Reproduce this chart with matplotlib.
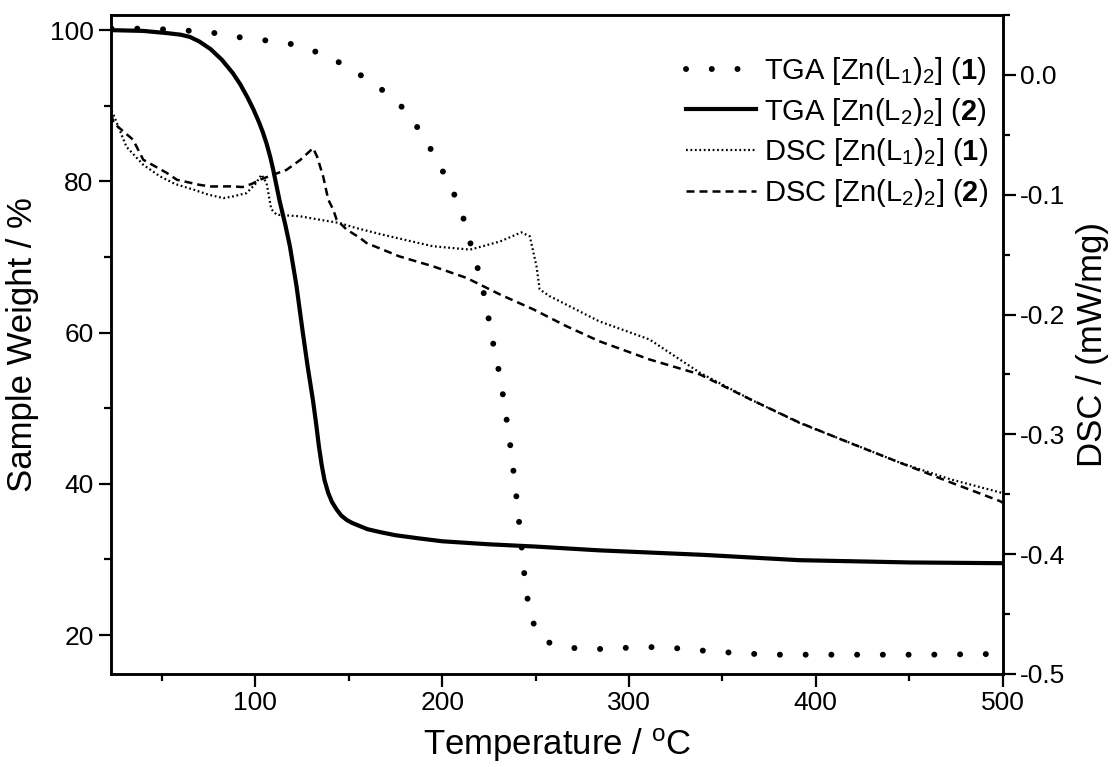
import matplotlib
matplotlib.use("Agg")
import matplotlib.pyplot as plt
from matplotlib.ticker import MultipleLocator, FuncFormatter

plt.rcParams['font.family'] = ['Liberation Sans', 'DejaVu Sans']
plt.rcParams['mathtext.fontset'] = 'custom'
plt.rcParams['mathtext.rm'] = 'Liberation Sans'
plt.rcParams['mathtext.it'] = 'Liberation Sans:italic'
plt.rcParams['mathtext.bf'] = 'Liberation Sans:bold'
plt.rcParams['axes.unicode_minus'] = False

# ---- data ----
tga1_T = [23, 38, 52, 66, 79, 93, 107, 121, 134, 146, 158, 169, 180, 190, 200, 208,
          212.5, 216, 220, 223, 225.5, 228, 231, 233, 236, 239, 242, 244, 246.3, 249,
          251, 255, 263, 277, 291, 305, 319, 332, 346, 360, 374, 388, 420, 460, 500]
tga1_W = [100.2, 100.2, 100.1, 99.9, 99.6, 99.0, 98.6, 98.1, 97.0, 95.6, 93.8, 91.9,
          89.5, 86.0, 81.5, 77.5, 74.3, 71.0, 67.7, 64.4, 61.0, 57.6, 54.2, 51.0, 46.0,
          40.0, 33.0, 28.0, 23.7, 21.5, 20.4, 19.2, 18.5, 18.1, 18.2, 18.4, 18.4, 18.1,
          17.8, 17.6, 17.4, 17.4, 17.4, 17.4, 17.5]

tga2_T = [23, 40, 53, 60, 65, 70, 76, 82, 88, 92, 96, 99, 102, 104, 106, 108, 109.5,
          111, 113, 116, 118.5, 122, 125.4, 128, 130.8, 132.5, 134, 135.5, 137, 139, 141,
          143.5, 146, 149, 152, 156, 160, 167, 175, 187, 200, 225, 250, 284, 340, 391,
          450, 500]
tga2_W = [100.0, 99.9, 99.6, 99.4, 99.1, 98.5, 97.5, 96.1, 94.3, 92.8, 91.0, 89.5, 87.8,
          86.5, 85.0, 83.2, 81.6, 79.8, 77.4, 74.3, 71.4, 66.2, 60.0, 55.5, 51.1, 48.0,
          45.0, 42.5, 40.5, 38.8, 37.6, 36.6, 35.8, 35.2, 34.8, 34.4, 34.0, 33.6, 33.2,
          32.8, 32.4, 32.0, 31.7, 31.2, 30.6, 29.9, 29.6, 29.5]

dsc1_T = [23, 24, 31, 40, 49, 57, 67, 75, 83, 88, 95.3, 100, 103.3, 106, 108.5, 111.4,
          124, 135, 145, 154, 168, 195, 215, 231, 242.4, 246.9, 250.5, 252.2, 257.6, 284,
          311, 338, 365, 391, 418, 445, 472, 500]
dsc1_D = [-0.030, -0.033, -0.060, -0.075, -0.0847, -0.091, -0.0958, -0.100, -0.1028,
          -0.1014, -0.0986, -0.091, -0.0833, -0.0903, -0.112, -0.1167, -0.118, -0.121,
          -0.1236, -0.1278, -0.1333, -0.143, -0.1458, -0.139, -0.1314, -0.1347, -0.1597,
          -0.179, -0.1847, -0.2056, -0.2208, -0.2486, -0.2708, -0.2903, -0.3069, -0.3236,
          -0.3375, -0.349]

dsc2_T = [23, 24, 34.5, 40, 52.5, 58, 70, 76, 88, 93, 98, 102.4, 110, 116.7, 124, 130.9,
          133, 136.3, 139, 141.7, 143.5, 148.8, 156, 159.5, 177, 195, 213, 231, 249,
          266.5, 284, 311, 338, 365, 391, 418, 445, 472, 498.4, 500]
dsc2_D = [-0.033, -0.040, -0.054, -0.0708, -0.0817, -0.0875, -0.0917, -0.0931, -0.093,
          -0.0936, -0.091, -0.0875, -0.083, -0.0792, -0.071, -0.0611, -0.068, -0.0847,
          -0.104, -0.1125, -0.1208, -0.129, -0.136, -0.1403, -0.1514, -0.1597, -0.1694,
          -0.1833, -0.1958, -0.2097, -0.2222, -0.2375, -0.250, -0.2708, -0.290, -0.307,
          -0.3236, -0.340, -0.3556, -0.357]

labels = [r'TGA [Zn(L$_1$)$_2$] ($\mathbf{1}$)',
          r'TGA [Zn(L$_2$)$_2$] ($\mathbf{2}$)',
          r'DSC [Zn(L$_1$)$_2$] ($\mathbf{1}$)',
          r'DSC [Zn(L$_2$)$_2$] ($\mathbf{2}$)']

# ---- figure ----
fig = plt.figure(figsize=(11.14, 7.67), dpi=100)
ax = fig.add_axes([0.0996, 0.1213, 0.8004, 0.8591])
ax2 = ax.twinx()

l1, = ax.plot(tga1_T, tga1_W, color='black', lw=4.3, linestyle=(0, (0.01, 4.3)),
              dash_capstyle='round', solid_capstyle='round')
l2, = ax.plot(tga2_T, tga2_W, color='black', lw=3.0)
l3, = ax2.plot(dsc1_T, dsc1_D, color='black', lw=1.6, linestyle=(0, (0.8, 1.2)))
l4, = ax2.plot(dsc2_T, dsc2_D, color='black', lw=1.8, linestyle=(0, (3.2, 2.0)))

ax.set_xlim(22.7, 500)
ax.set_ylim(14.85, 102.0)
ax2.set_ylim(-0.5, 0.05)

ax.xaxis.set_major_locator(MultipleLocator(100))
ax.xaxis.set_minor_locator(MultipleLocator(50))
ax.yaxis.set_major_locator(MultipleLocator(20))
ax.yaxis.set_minor_locator(MultipleLocator(10))
ax2.yaxis.set_major_locator(MultipleLocator(0.1))
ax2.yaxis.set_minor_locator(MultipleLocator(0.05))
ax2.yaxis.set_major_formatter(FuncFormatter(lambda v, p: '%.1f' % (0.0 if abs(v) < 1e-9 else v)))

for a in (ax, ax2):
    for s in a.spines.values():
        s.set_linewidth(1.8)
    a.tick_params(which='major', length=9, width=1.6, direction='out', labelsize=19)
    a.tick_params(which='minor', length=5, width=1.6, direction='out')
ax.tick_params(axis='x', top=False, which='both')
ax.tick_params(axis='y', right=False, which='both')

ax.set_xlabel(r'Temperature / $^{\mathrm{o}}$C', fontsize=25, labelpad=8)
ax.set_ylabel('Sample Weight / %', fontsize=25, labelpad=8)
ax2.set_ylabel('DSC / (mW/mg)', fontsize=25, labelpad=8)

leg = ax.legend([l1, l2, l3, l4], labels, loc='upper right', frameon=False,
                fontsize=21, handlelength=2.4, handletextpad=0.28, labelspacing=0.3,
                bbox_to_anchor=(0.9, 0.9475), bbox_transform=fig.transFigure, borderpad=0)

fig.savefig('out.png', dpi=100)
